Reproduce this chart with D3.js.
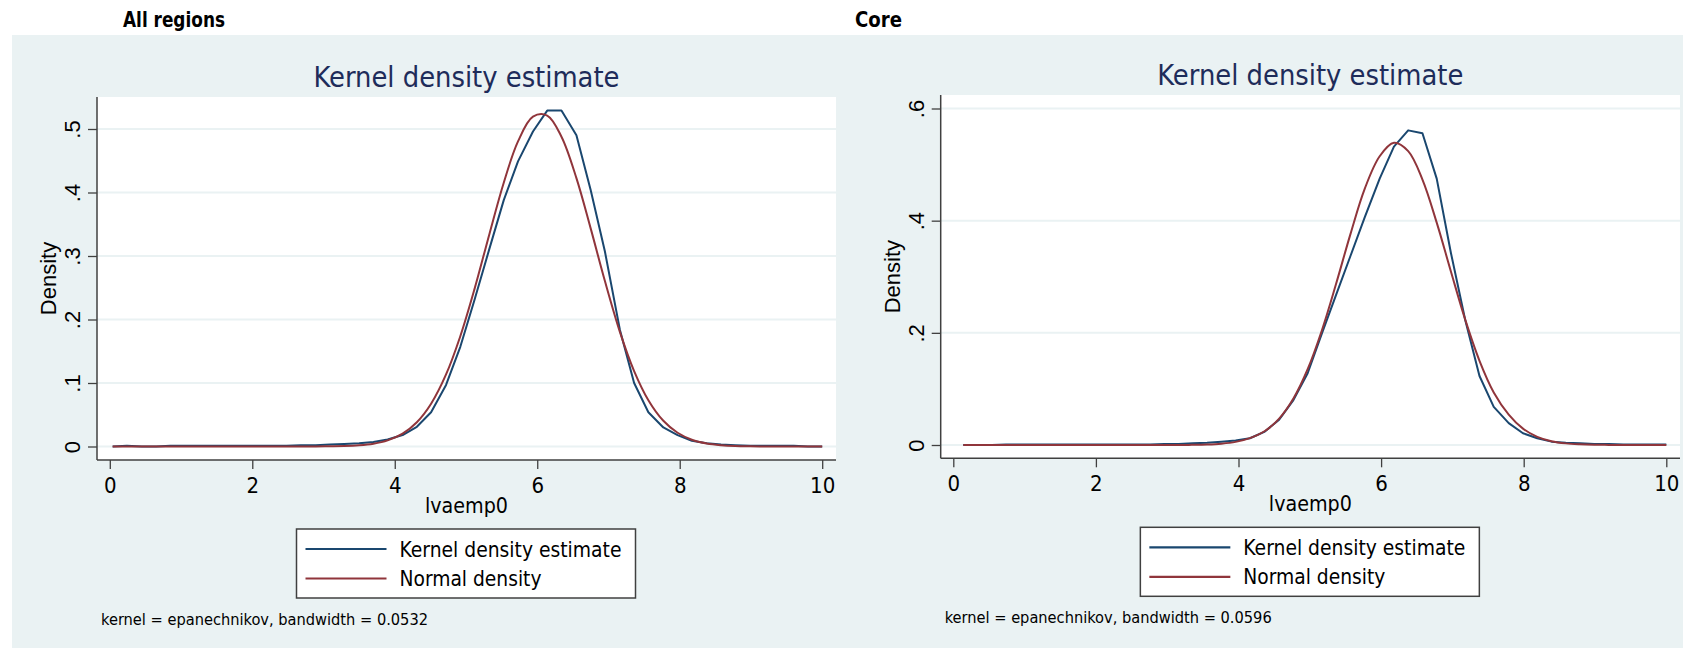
<!DOCTYPE html>
<html lang="en">
<head>
  <meta charset="UTF-8" />
  <title>Kernel density estimate: lvaemp0</title>
  <script src="https://d3js.org/d3.v7.min.js"></script>
  <style>
    body { margin: 0; background: #fff; }
    svg { display: block; }
    .narrow { font-family: "Liberation Sans Narrow", "Arial Narrow", "DejaVu Sans Condensed", sans-serif; }
    .wide { font-family: "Liberation Sans", Arial, sans-serif; }
  </style>
</head>
<body>
  <div id="chart"></div>

  <script>
    // evaluation grid and densities
    const allX = [0.04, 0.24, 0.45, 0.65, 0.85, 1.06, 1.26, 1.46, 1.67, 1.87,
      2.07, 2.28, 2.48, 2.68, 2.89, 3.09, 3.29, 3.50, 3.70, 3.90,
      4.11, 4.31, 4.51, 4.72, 4.92, 5.12, 5.33, 5.53, 5.73, 5.94,
      6.14, 6.34, 6.55, 6.75, 6.95, 7.16, 7.36, 7.56, 7.77, 7.97,
      8.17, 8.38, 8.58, 8.78, 8.99, 9.19, 9.39, 9.60, 9.80, 10.00];
    const allKernel = [0.000, 0.001, 0.000, 0.000, 0.001, 0.001, 0.001, 0.001, 0.001, 0.001,
      0.001, 0.001, 0.001, 0.002, 0.002, 0.003, 0.004, 0.005, 0.007, 0.011,
      0.018, 0.031, 0.054, 0.097, 0.157, 0.231, 0.312, 0.388, 0.449, 0.496,
      0.529, 0.529, 0.490, 0.404, 0.307, 0.184, 0.100, 0.054, 0.030, 0.018,
      0.009, 0.005, 0.003, 0.002, 0.001, 0.001, 0.001, 0.001, 0.000, 0.000];
    const allNormal = [0, 0, 0, 0, 0, 0, 0, 0, 0, 0,
      0, 0, 0, 0, 0.0001, 0.0003, 0.0007, 0.0019, 0.0044, 0.0096,
      0.0202, 0.0382, 0.0674, 0.1135, 0.1737, 0.2482, 0.3352, 0.4154, 0.4804, 0.5194,
      0.5212, 0.4879, 0.4227, 0.3435, 0.2605, 0.1806, 0.1188, 0.0729, 0.0405, 0.0216,
      0.0107, 0.0048, 0.0021, 0.0008, 0.0003, 0.0001, 0, 0, 0, 0];

    const coreX = [0.14, 0.34, 0.54, 0.74, 0.94, 1.15, 1.35, 1.55, 1.75, 1.95,
      2.15, 2.35, 2.55, 2.76, 2.96, 3.16, 3.36, 3.56, 3.76, 3.96,
      4.16, 4.37, 4.57, 4.77, 4.97, 5.17, 5.37, 5.57, 5.77, 5.98,
      6.18, 6.38, 6.58, 6.78, 6.98, 7.18, 7.38, 7.58, 7.79, 7.99,
      8.19, 8.39, 8.59, 8.79, 8.99, 9.19, 9.40, 9.60, 9.80, 10.00];
    const coreKernel = [0.000, 0.000, 0.000, 0.001, 0.001, 0.001, 0.001, 0.001, 0.001, 0.001,
      0.001, 0.001, 0.001, 0.001, 0.002, 0.002, 0.003, 0.004, 0.006, 0.008,
      0.012, 0.024, 0.045, 0.080, 0.128, 0.199, 0.268, 0.337, 0.406, 0.475,
      0.532, 0.561, 0.556, 0.475, 0.342, 0.223, 0.123, 0.068, 0.039, 0.021,
      0.012, 0.006, 0.004, 0.003, 0.002, 0.002, 0.001, 0.001, 0.001, 0.001];
    const coreNormal = [0, 0, 0, 0, 0, 0, 0, 0, 0, 0,
      0, 0, 0, 0, 0, 0.0001, 0.0003, 0.0009, 0.0024, 0.0056,
      0.0123, 0.0249, 0.0471, 0.0829, 0.1351, 0.2046, 0.2879, 0.3760, 0.4567, 0.5148,
      0.5388, 0.5239, 0.4732, 0.3965, 0.3090, 0.2235, 0.1502, 0.0938, 0.0543, 0.0292,
      0.0146, 0.0068, 0.0029, 0.0012, 0.0004, 0.0002, 0.0001, 0, 0, 0];

    const xTicks = [0, 2, 4, 6, 8, 10];
    const allYTicks = [0, 0.1, 0.2, 0.3, 0.4, 0.5];
    const allYLabels = ["0", ".1", ".2", ".3", ".4", ".5"];
    const coreYTicks = [0, 0.2, 0.4, 0.6];
    const coreYLabels = ["0", ".2", ".4", ".6"];
    const legendLabels = ["Kernel density estimate", "Normal density"];

    const W = 1683, H = 648;
    const BG = "#eaf2f3", NAVY = "#1a476f", MAROON = "#90353b", AXIS = "#404040";

    const svg = d3.select("#chart").append("svg")
      .attr("width", W).attr("height", H);

    svg.append("rect").attr("width", W).attr("height", H).attr("fill", "#fff");

    const panels = [
      {
        header: "All regions", headerX: 123, headerLen: 102,
        bg: [12, 35, 856, H],
        plot: { left: 97, right: 836, top: 97, bottom: 460 },
        xRange: [109.8, 822.2], yRange: [446.5, 129], yMax: 0.5,
        yTicks: allYTicks, yLabels: allYLabels,
        xs: allX, kernel: allKernel, normal: allNormal,
        note: "kernel = epanechnikov, bandwidth = 0.0532"
      },
      {
        header: "Core", headerX: 855, headerLen: 47,
        bg: [856, 35, W, H],
        plot: { left: 940.7, right: 1680, top: 95, bottom: 458.3 },
        xRange: [953.3, 1666.3], yRange: [445, 108.5], yMax: 0.6,
        yTicks: coreYTicks, yLabels: coreYLabels,
        xs: coreX, kernel: coreKernel, normal: coreNormal,
        note: "kernel = epanechnikov, bandwidth = 0.0596"
      }
    ];

    panels.forEach(p => {
      const g = svg.append("g");
      const x = d3.scaleLinear().domain([0, 10]).range(p.xRange);
      const y = d3.scaleLinear().domain([0, p.yMax]).range(p.yRange);
      const pl = p.plot;
      const cx = (pl.left + pl.right) / 2;
      const cy = (pl.top + pl.bottom) / 2;

      // graph region
      g.append("rect")
        .attr("x", p.bg[0]).attr("y", p.bg[1])
        .attr("width", p.bg[2] - p.bg[0]).attr("height", p.bg[3] - p.bg[1])
        .attr("fill", BG);

      g.append("text").attr("class", "narrow")
        .attr("x", p.headerX).attr("y", 26.5)
        .attr("font-size", 22).attr("font-weight", "bold")
        .attr("textLength", p.headerLen).attr("lengthAdjust", "spacingAndGlyphs")
        .text(p.header);

      // plot region + grid
      g.append("rect")
        .attr("x", pl.left).attr("y", pl.top)
        .attr("width", pl.right - pl.left).attr("height", pl.bottom - pl.top)
        .attr("fill", "#fff");

      g.selectAll(".grid").data(p.yTicks).join("line")
        .attr("x1", pl.left).attr("x2", pl.right)
        .attr("y1", d => y(d)).attr("y2", d => y(d))
        .attr("stroke", BG).attr("stroke-width", 2);

      // title
      g.append("text").attr("class", "narrow")
        .attr("x", cx).attr("y", pl.top - 10)
        .attr("text-anchor", "middle").attr("font-size", 29)
        .attr("fill", "#1e2c5a")
        .attr("textLength", 306).attr("lengthAdjust", "spacingAndGlyphs")
        .text("Kernel density estimate");

      // x axis
      const xAxis = g.append("g")
        .attr("transform", `translate(0,${pl.bottom})`)
        .call(d3.axisBottom(x).tickValues(xTicks).tickSize(9).tickPadding(8).tickFormat(d3.format("d")));
      xAxis.select(".domain").remove();
      xAxis.selectAll("line").attr("stroke", AXIS).attr("stroke-width", 1.3);
      xAxis.selectAll("text").attr("class", "narrow")
        .attr("font-size", 22).attr("fill", "#000").attr("font-family", null);
      g.append("line")
        .attr("x1", pl.left).attr("x2", pl.right)
        .attr("y1", pl.bottom).attr("y2", pl.bottom)
        .attr("stroke", AXIS).attr("stroke-width", 1.5);

      g.append("text").attr("class", "narrow")
        .attr("x", cx).attr("y", pl.bottom + 53)
        .attr("text-anchor", "middle").attr("font-size", 22)
        .attr("textLength", 83).attr("lengthAdjust", "spacingAndGlyphs")
        .text("lvaemp0");

      // y axis
      const yAxis = g.append("g")
        .attr("transform", `translate(${pl.left},0)`)
        .call(d3.axisLeft(y).tickValues(p.yTicks).tickSize(9)
          .tickFormat((d, i) => p.yLabels[i]));
      yAxis.select(".domain").remove();
      yAxis.selectAll("line").attr("stroke", AXIS).attr("stroke-width", 1.3);
      yAxis.selectAll("text").attr("class", "wide")
        .attr("font-family", null).attr("font-size", 22).attr("fill", "#000")
        .attr("x", 0).attr("y", -17).attr("dy", null)
        .attr("text-anchor", "middle")
        .attr("transform", "rotate(-90)");
      g.append("line")
        .attr("x1", pl.left).attr("x2", pl.left)
        .attr("y1", pl.top).attr("y2", pl.bottom)
        .attr("stroke", AXIS).attr("stroke-width", 1.5);

      g.append("text").attr("class", "wide")
        .attr("transform", `translate(${pl.left - 41},${cy}) rotate(-90)`)
        .attr("text-anchor", "middle").attr("font-size", 22)
        .text("Density");

      // curves
      const line = d3.line().x(d => x(d[0])).y(d => y(d[1]));
      g.append("path")
        .datum(d3.zip(p.xs, p.kernel))
        .attr("fill", "none").attr("stroke", NAVY).attr("stroke-width", 2)
        .attr("stroke-linejoin", "round")
        .attr("d", line);
      g.append("path")
        .datum(d3.zip(p.xs, p.normal))
        .attr("fill", "none").attr("stroke", MAROON).attr("stroke-width", 2)
        .attr("d", line.curve(d3.curveCatmullRom));

      // legend
      const lx = cx - 170, ly = pl.bottom + 69;
      const leg = g.append("g").attr("transform", `translate(${lx},${ly})`);
      leg.append("rect")
        .attr("width", 339).attr("height", 69)
        .attr("fill", "#fff").attr("stroke", AXIS).attr("stroke-width", 1.5);
      const items = leg.selectAll(".item")
        .data(legendLabels.map((t, i) => ({ t, c: [NAVY, MAROON][i], yy: 20 + i * 29.5 })))
        .join("g");
      items.append("line")
        .attr("x1", 9).attr("x2", 90)
        .attr("y1", d => d.yy).attr("y2", d => d.yy)
        .attr("stroke", d => d.c).attr("stroke-width", 2.2);
      items.append("text").attr("class", "narrow")
        .attr("x", 103).attr("y", d => d.yy + 7.5)
        .attr("font-size", 21)
        .attr("textLength", (d, i) => [222, 142][i]).attr("lengthAdjust", "spacingAndGlyphs")
        .text(d => d.t);

      // note
      g.append("text").attr("class", "narrow")
        .attr("x", pl.left + 4).attr("y", pl.bottom + 165)
        .attr("font-size", 16)
        .attr("textLength", 327).attr("lengthAdjust", "spacingAndGlyphs")
        .text(p.note);
    });
  </script>
</body>
</html>
